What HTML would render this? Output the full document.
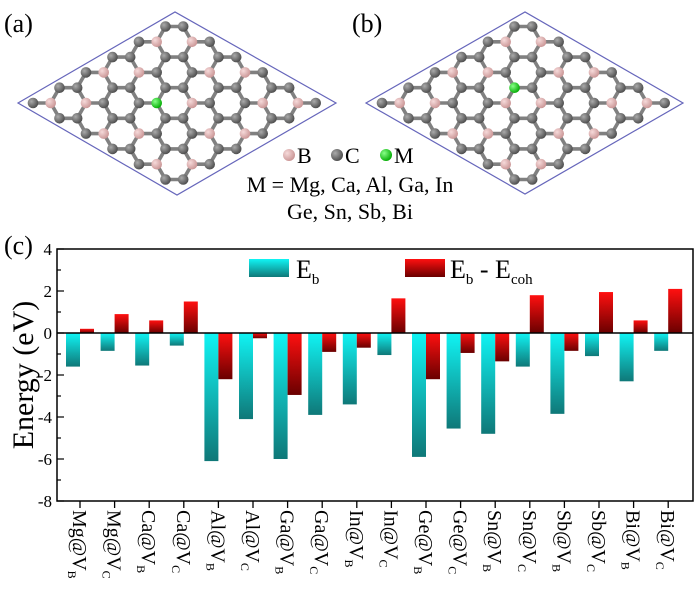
<!DOCTYPE html>
<html><head><meta charset="utf-8"><style>
body{margin:0;background:#fff;}
svg{display:block;font-family:"Liberation Serif",serif;}
</style></head><body>
<svg id="s" width="700" height="596" viewBox="0 0 700 596" xmlns="http://www.w3.org/2000/svg">
<defs>
<linearGradient id="cy" x1="0" y1="0" x2="0" y2="1"><stop offset="0" stop-color="#10f4f4"/><stop offset="1" stop-color="#0f7878"/></linearGradient>
<linearGradient id="rd" x1="0" y1="0" x2="0" y2="1"><stop offset="0" stop-color="#ff1010"/><stop offset="1" stop-color="#6a0000"/></linearGradient>
<radialGradient id="gc" cx="0.35" cy="0.35" r="0.7"><stop offset="0" stop-color="#aaa"/><stop offset="1" stop-color="#4a4a4a"/></radialGradient>
<radialGradient id="gb" cx="0.35" cy="0.35" r="0.7"><stop offset="0" stop-color="#f6dada"/><stop offset="1" stop-color="#c99494"/></radialGradient>
<radialGradient id="gm" cx="0.35" cy="0.35" r="0.7"><stop offset="0" stop-color="#8f8"/><stop offset="1" stop-color="#0a0"/></radialGradient>
</defs>
<text x="4" y="32" font-size="26">(a)</text>
<text x="352" y="32" font-size="26">(b)</text>
<g id="pa"></g><g id="pb"></g>
<polygon points="18,103 175,12 336,103 177,195" fill="none" stroke="#6666bb" stroke-width="1.2"/>
<polygon points="366,103 525,12 683,103 525,194" fill="none" stroke="#6666bb" stroke-width="1.2"/>
<circle cx="289" cy="155" r="6" fill="url(#gb)"/><text x="297" y="163" font-size="22">B</text>
<circle cx="337" cy="155" r="6" fill="url(#gc)"/><text x="345" y="163" font-size="22">C</text>
<circle cx="386" cy="155" r="6" fill="url(#gm)"/><text x="394" y="163" font-size="22">M</text>
<text x="350" y="192" font-size="22" text-anchor="middle">M = Mg, Ca, Al, Ga, In</text>
<text x="350" y="219" font-size="22" text-anchor="middle">Ge, Sn, Sb, Bi</text>
<text x="4" y="254" font-size="26">(c)</text>
<g id="ch"></g>
</svg>
<script>
var NS="http://www.w3.org/2000/svg";
function el(p,t,a,txt){var e=document.createElementNS(NS,t);for(var k in a)e.setAttribute(k,a[k]);if(txt!=null)e.textContent=txt;p.appendChild(e);return e;}
function lattice(g,ox,oy,mk){
 var r=17.7,a1=[26.5,-15.3],a2=[26.5,15.3];
 function A(i,j){return [ox+i*a1[0]+j*a2[0],oy+i*a1[1]+j*a2[1]];}
 function B(i,j){var p=A(i,j);return [p[0]+r,p[1]];}
 var i,j;
 for(i=0;i<6;i++)for(j=0;j<6;j++){var p=A(i,j);
  [[i,j],[i-1,j],[i,j-1]].forEach(function(q){if(q[0]<0||q[1]<0)return;var b=B(q[0],q[1]);
   el(g,"line",{x1:p[0],y1:p[1],x2:b[0],y2:b[1],stroke:"#808080","stroke-width":3.6});});}
 for(i=0;i<6;i++)for(j=0;j<6;j++){
  var p=A(i,j),f=(i%2==1&&j%2==1)?"url(#gb)":"url(#gc)";
  if(mk[0]=="A"&&mk[1]==i&&mk[2]==j)f="url(#gm)";
  el(g,"circle",{cx:p[0],cy:p[1],r:5.3,fill:f});
  p=B(i,j);f=(i%2==0&&j%2==0)?"url(#gb)":"url(#gc)";
  if(mk[0]=="B"&&mk[1]==i&&mk[2]==j)f="url(#gm)";
  el(g,"circle",{cx:p[0],cy:p[1],r:5.3,fill:f});
 }
}
lattice(document.getElementById("pa"),33,103,["B",2,2]);
lattice(document.getElementById("pb"),382,103,["A",3,2]);
var g=document.getElementById("ch");
var L=57,R=693,T=249,Bt=501,Y0=333,U=21;
function Y(v){return Y0-v*U;}
var d=[["Mg","B",-1.6,0.2],["Mg","C",-0.85,0.9],["Ca","B",-1.55,0.6],["Ca","C",-0.6,1.5],["Al","B",-6.1,-2.2],["Al","C",-4.1,-0.25],["Ga","B",-6.0,-2.95],["Ga","C",-3.9,-0.9],["In","B",-3.4,-0.7],["In","C",-1.05,1.65],["Ge","B",-5.9,-2.2],["Ge","C",-4.55,-0.95],["Sn","B",-4.8,-1.35],["Sn","C",-1.6,1.8],["Sb","B",-3.85,-0.85],["Sb","C",-1.1,1.95],["Bi","B",-2.3,0.6],["Bi","C",-0.85,2.1]];
d.forEach(function(r,k){var x=80+k*34.6;
 function bar(x0,v,f){var y1=Math.min(Y(v),Y0),h=Math.abs(v)*U;el(g,"rect",{x:x0,y:y1,width:14,height:h,fill:f});}
 bar(x-14,r[2],"url(#cy)");bar(x,r[3],"url(#rd)");
 el(g,"line",{x1:x,y1:Bt,x2:x,y2:Bt+7,stroke:"#000","stroke-width":1.3});
 var t=el(g,"text",{x:0,y:0,"font-size":20,transform:"translate("+(x-7)+",510) rotate(90)"});
 t.appendChild(document.createTextNode(r[0]+"@V"));
 el(t,"tspan",{"font-size":12,dy:5},r[1]);
});
el(g,"line",{x1:L,y1:Y0,x2:R,y2:Y0,stroke:"#000","stroke-width":1.5});
el(g,"rect",{x:L,y:T,width:R-L,height:Bt-T,fill:"none",stroke:"#000","stroke-width":1.5});
for(var v=-8;v<=4;v++){var y=Y(v);
 el(g,"line",{x1:L,y1:y,x2:L+(v%2==0?7:4),y2:y,stroke:"#000","stroke-width":1.2});
 if(v%2==0)el(g,"text",{x:52,y:y+6,"font-size":17,"text-anchor":"end"},""+v);}
el(g,"text",{x:0,y:0,"font-size":30,"text-anchor":"middle",transform:"translate(33,375) rotate(-90)"},"Energy (eV)");
el(g,"rect",{x:249,y:259,width:40,height:18,fill:"url(#cy)"});
var t1=el(g,"text",{x:296,y:278,"font-size":26},"E");el(t1,"tspan",{"font-size":15,dy:6},"b");
el(g,"rect",{x:405,y:259,width:40,height:18,fill:"url(#rd)"});
var t2=el(g,"text",{x:450,y:278,"font-size":26},"E");el(t2,"tspan",{"font-size":15,dy:6},"b");
el(t2,"tspan",{dy:-6}," - E");el(t2,"tspan",{"font-size":15,dy:6},"coh");
</script>
</body></html>
